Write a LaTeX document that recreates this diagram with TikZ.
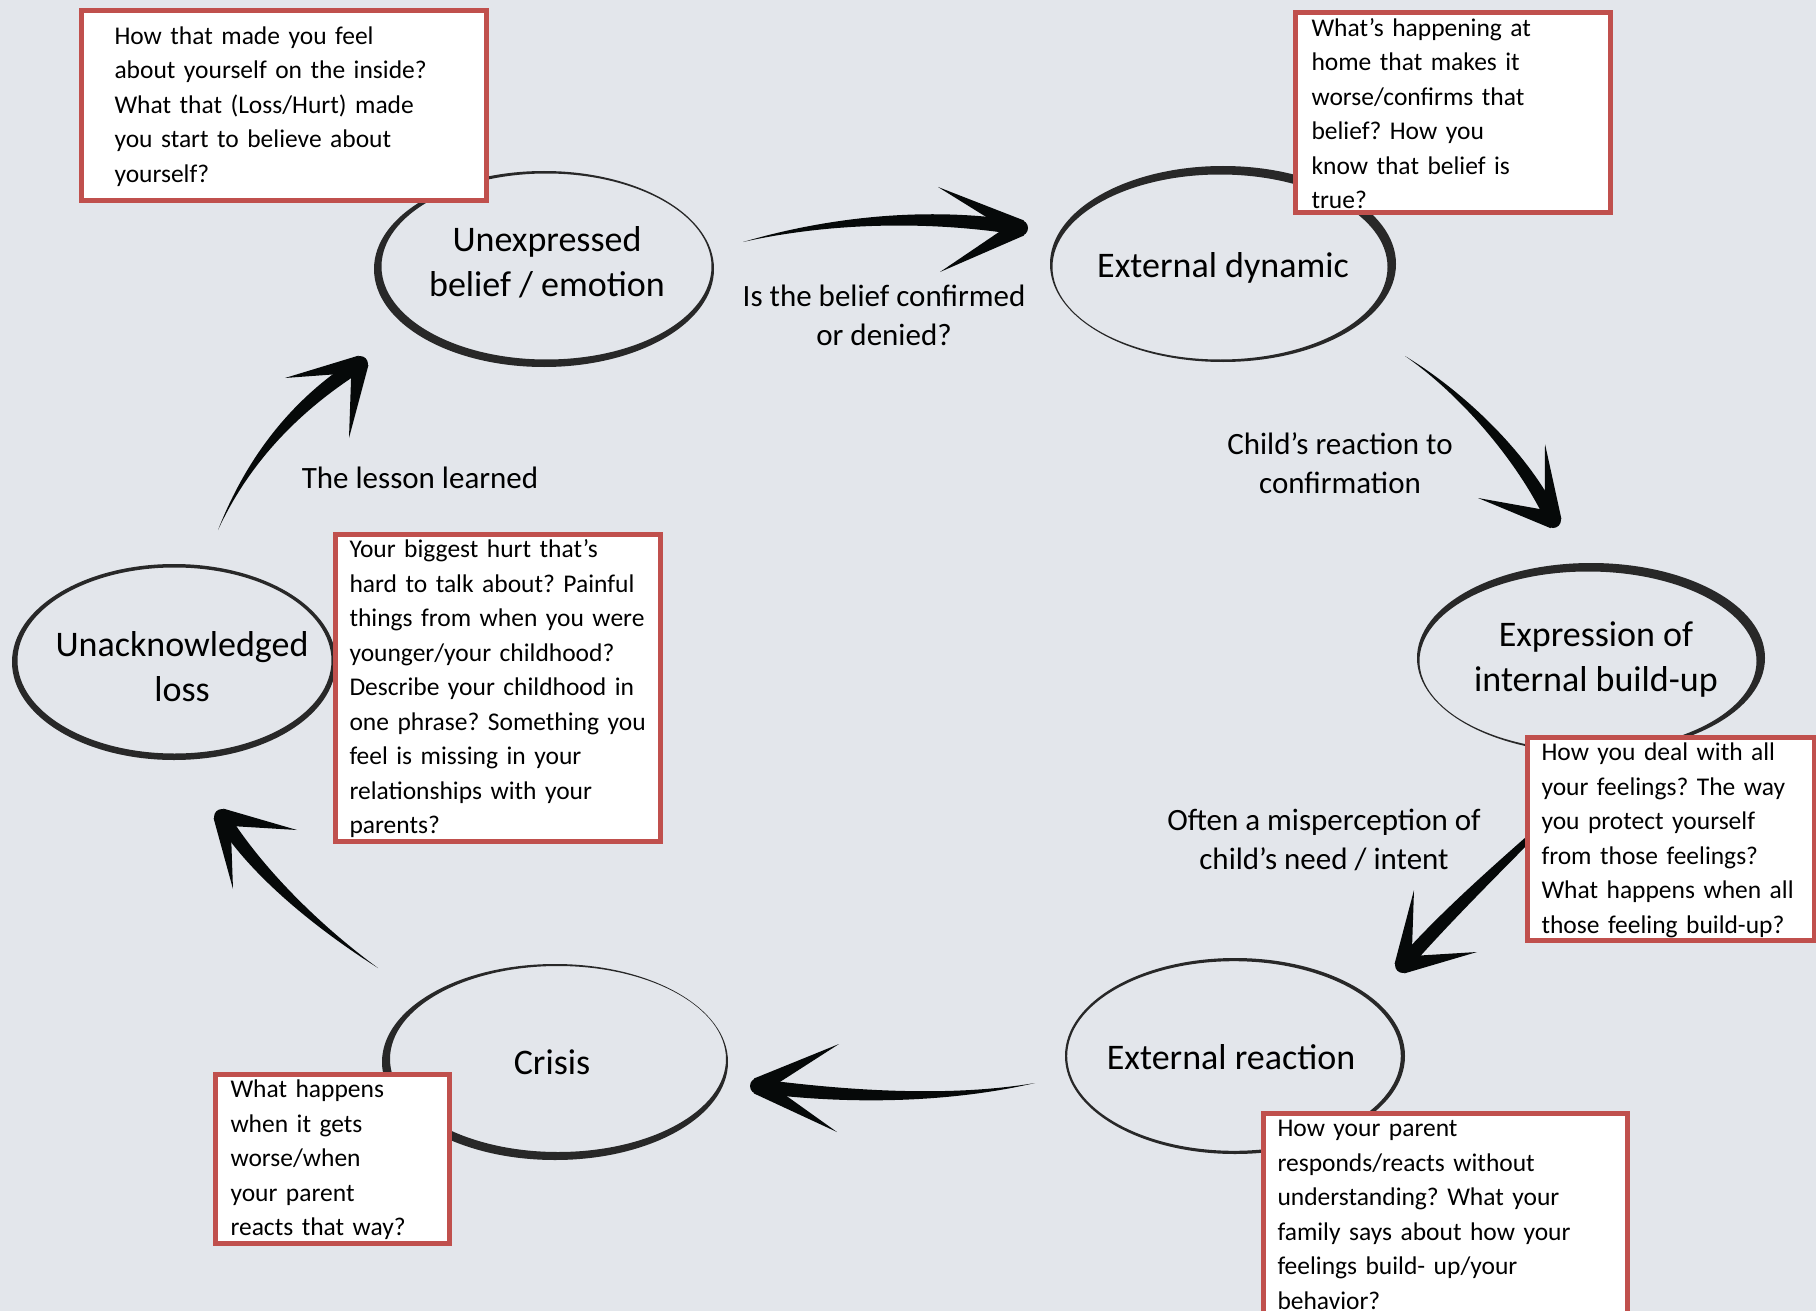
\documentclass[tikz,border=0pt]{standalone}
\usepackage{fontspec}
\setmainfont{Carlito}
\usetikzlibrary{calc}

\definecolor{canvas}{RGB}{227,230,235}
\definecolor{boxred}{RGB}{192,80,77}
\definecolor{ink}{RGB}{6,9,9}
\definecolor{ringink}{RGB}{40,40,40}

% brush-stroke ring: centre, outer radii, inner radii, shift of the inner ellipse
\newcommand\brushring[6]{%
  \fill[ringink, even odd rule] (#1) ellipse [x radius=#2pt, y radius=#3pt]
    ($(#1)+#6$) ellipse [x radius=#4pt, y radius=#5pt];}

% one tapered barb of an arrow head
\newcommand\armstroke[2]{%
  \fill[ink] ($(#1)!8.5pt!90:(#2)$) -- (#2) -- ($(#1)!8.5pt!-90:(#2)$) -- cycle;}

% tapered brush arrow: tail, control 1, control 2, tip, barb a, barb b, half width
\newcommand\brusharrow[7]{%
  \coordinate (bp) at ($(#4)!#7pt!90:(#3)$);
  \coordinate (bm) at ($(#4)!#7pt!-90:(#3)$);
  \fill[ink] (#1) .. controls ($(#2)+0.4*(bp)-0.4*(#4)$) and ($(#3)+(bp)-(#4)$) .. (bp)
    -- (bm) .. controls ($(#3)+(bm)-(#4)$) and ($(#2)+0.4*(bm)-0.4*(#4)$) .. (#1) -- cycle;
  \armstroke{#4}{#5}
  \armstroke{#4}{#6}
  \fill[ink] (#4) circle [radius=8pt];}

\begin{document}
\frenchspacing
\begin{tikzpicture}[x=1pt,y=-1pt,
  stage/.style={align=center, inner sep=0pt, font=\fontsize{36}{45}\selectfont},
  lbl/.style={align=center, inner sep=0pt, font=\fontsize{31}{39}\selectfont},
  qbox/.style={draw=boxred, line width=5pt, fill=white, align=left, anchor=north west,
    font=\fontsize{25.5}{34.5}\selectfont, text height=20pt, inner ysep=3.5pt, inner xsep=14.5pt}]

\fill[canvas] (0,0) rectangle (1816,1311);
\useasboundingbox (0,0) rectangle (1816,1311);

% stages of the cycle
\node[stage] (u)  at (547,262)  {Unexpressed\\belief / emotion};
\node[stage] (ed) at (1223,268) {External dynamic};
\node[stage] (ex) at (1596,660) {Expression of\\internal build-up};
\node[stage] (er) at (1231,1057) {External reaction};
\node[stage] (cr) at (552,1062) {Crisis};
\node[stage] (ul) at (182,667)  {Unacknowledged\\loss};

% hand-drawn rings round the stages
\coordinate (ur)  at ($(u)+(-3,7)$);
\coordinate (edr) at ($(ed)+(0,-4)$);
\coordinate (exr) at ($(ex)+(-5,-2)$);
\coordinate (err) at ($(er)+(4,-1)$);
\coordinate (crr) at ($(cr)+(3,0)$);
\coordinate (ulr) at ($(ul)+(-8,-5)$);
\brushring{ur}{170}{98}{165}{93}{(2.5,-2.5)}
\brushring{edr}{173}{98}{167.5}{92.5}{(-3,3)}
\brushring{exr}{174}{95}{168.5}{89.5}{(-3,3)}
\brushring{err}{170}{98}{166.8}{94.8}{(-1,0)}
\brushring{crr}{173}{98}{168}{93}{(3,-3)}
\brushring{ulr}{162}{98}{157}{93}{(0.5,-1.5)}

% arrows between the stages
\coordinate (a1s) at (743,242);  \coordinate (a1c) at (820,222);
\coordinate (a1d) at (920,212);  \coordinate (a1t) at (1020,228);
\coordinate (a1a) at (938,187);  \coordinate (a1b) at (940,272);
\brusharrow{a1s}{a1c}{a1d}{a1t}{a1a}{a1b}{7}

\coordinate (a2s) at (1405,356); \coordinate (a2c) at (1465,395);
\coordinate (a2d) at (1525,460); \coordinate (a2t) at (1553,520);
\coordinate (a2a) at (1545,444); \coordinate (a2b) at (1478,498);
\brusharrow{a2s}{a2c}{a2d}{a2t}{a2a}{a2b}{7}

\coordinate (a3s) at (1590,780); \coordinate (a3c) at (1540,830);
\coordinate (a3d) at (1460,900); \coordinate (a3t) at (1403,965);
\coordinate (a3a) at (1414,890); \coordinate (a3b) at (1477,952);
\brusharrow{a3s}{a3c}{a3d}{a3t}{a3a}{a3b}{7}

\coordinate (a4s) at (1035,1083); \coordinate (a4c) at (950,1100);
\coordinate (a4d) at (850,1098);  \coordinate (a4t) at (758,1086);
\coordinate (a4a) at (839,1044);  \coordinate (a4b) at (837,1132);
\brusharrow{a4s}{a4c}{a4d}{a4t}{a4a}{a4b}{7}

\coordinate (a5s) at (378,968); \coordinate (a5c) at (315,925);
\coordinate (a5d) at (255,870); \coordinate (a5t) at (222,817);
\coordinate (a5a) at (297,830); \coordinate (a5b) at (233,889);
\brusharrow{a5s}{a5c}{a5d}{a5t}{a5a}{a5b}{7}

\coordinate (a6s) at (218,530); \coordinate (a6c) at (248,460);
\coordinate (a6d) at (295,405); \coordinate (a6t) at (360,364);
\coordinate (a6a) at (285,378); \coordinate (a6b) at (349,438);
\brusharrow{a6s}{a6c}{a6d}{a6t}{a6a}{a6b}{7}

% arrow captions
\node[lbl] (l1) at (884,315)  {Is the belief confirmed\\or denied?};
\node[lbl] (l2) at (1340,463) {Child’s reaction to\\confirmation};
\node[lbl] (l3) at (420,478)  {The lesson learned};
\node[lbl] (l4) at (1324,840) {Often a misperception of\\child’s need / intent};

% question boxes
\node[qbox, inner xsep=33.5pt, inner ysep=13.5pt, text width=338pt] (q1) at (78.5,8.5)
  {How that made you feel\\about yourself on the inside?\\What that (Loss/Hurt) made\\you start to believe about\\yourself?};
\node[qbox, inner xsep=16.5pt, text width=282pt] (q2) at (1292.5,10.5)
  {What’s happening at\\home that makes it\\worse/confirms that\\belief? How you\\know that belief is\\true?};
\node[qbox, text width=296pt] (q3) at (332.5,531.5)
  {Your biggest hurt that’s\\hard to talk about? Painful\\\mbox{things from when you were}\\younger/your childhood?\\\mbox{Describe your childhood in}\\\mbox{one phrase? Something you}\\feel is missing in your\\relationships with your\\parents?};
\node[qbox, text width=258pt] (q4) at (1524.5,734.5)
  {How you deal with all\\your feelings? The way\\you protect yourself\\from those feelings?\\\mbox{What happens when all}\\those feeling build-up?};
\node[qbox, inner xsep=15.5pt, text width=203pt] (q5) at (212.5,1071.5)
  {What happens\\when it gets\\worse/when\\your parent\\reacts that way?};
\node[qbox, text width=335pt, text depth=240pt] (q6) at (1260.5,1110.5)
  {How your parent\\responds/reacts without\\understanding? What your\\family says about how your\\feelings build- up/your\\behavior?};

\end{tikzpicture}
\end{document}
